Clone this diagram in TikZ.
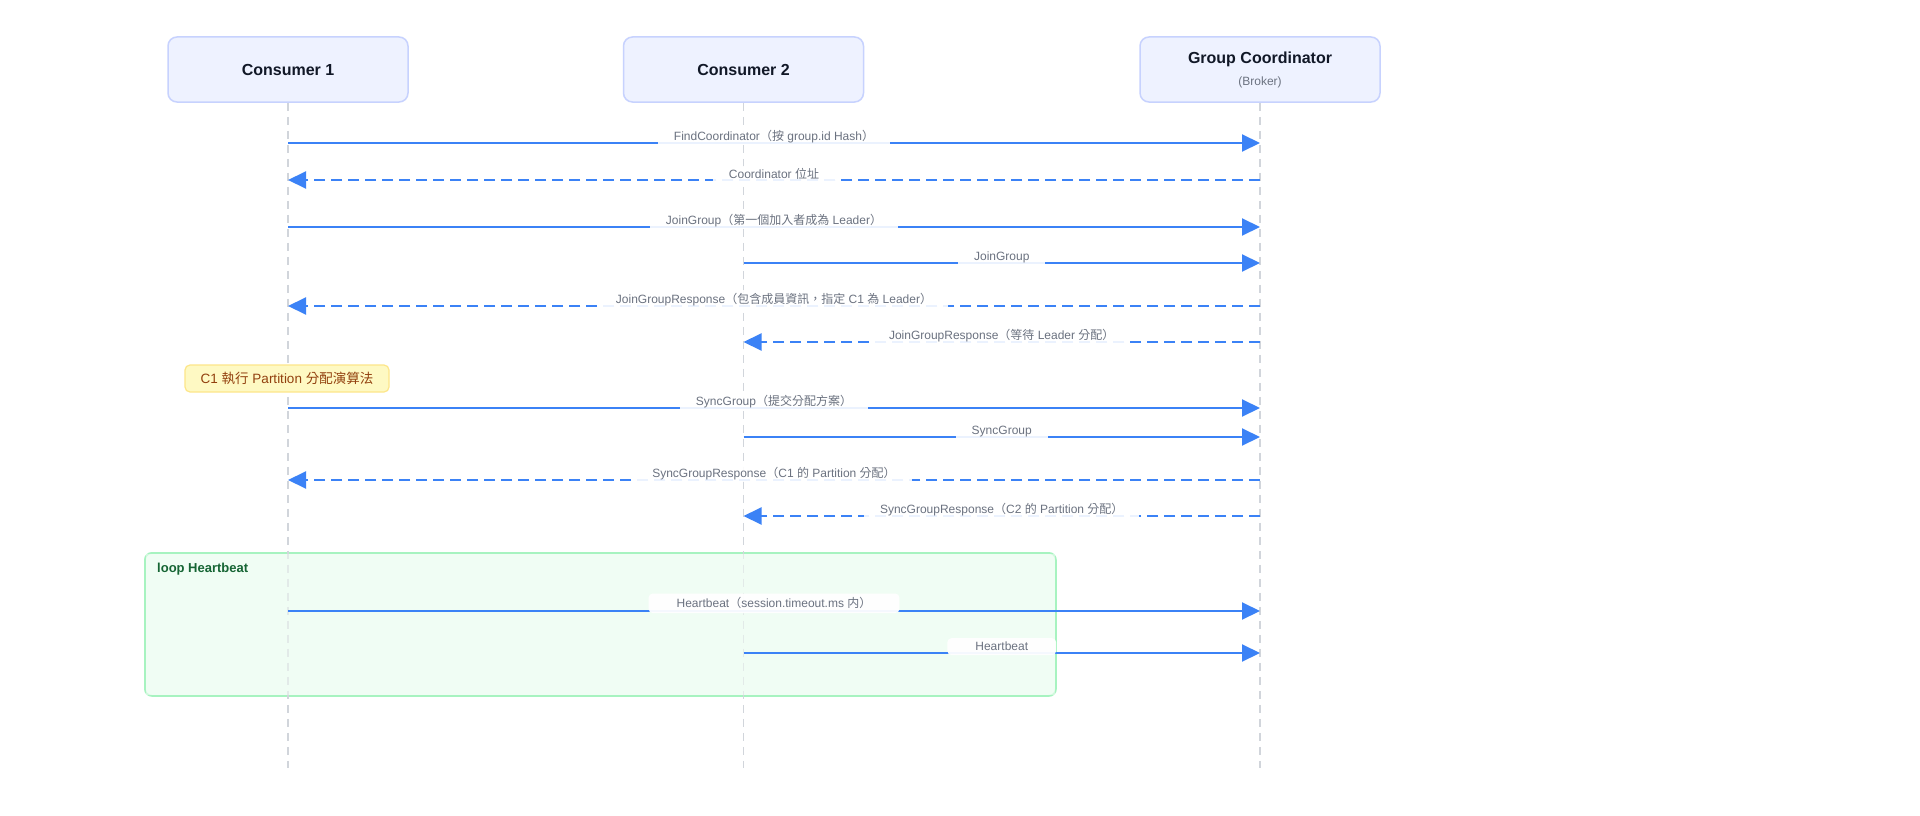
\documentclass[tikz,border=0pt]{standalone}
\usepackage{fontspec}
\setmainfont{Liberation Sans}
\newfontfamily\cjkfont{Noto Sans CJK TC}
\newcommand{\zhc}[1]{{\cjkfont #1}}
\usetikzlibrary{arrows.meta,calc}
\definecolor{headfill}{HTML}{EEF2FF}
\definecolor{headdraw}{HTML}{C7D2FE}
\definecolor{lifecol}{HTML}{D1D5DB}
\definecolor{msgcol}{HTML}{3B82F6}
\definecolor{lblcol}{HTML}{6B7280}
\definecolor{notefill}{HTML}{FEF9C3}
\definecolor{notedraw}{HTML}{FDE68A}
\definecolor{notetext}{HTML}{92400E}
\definecolor{loopfill}{HTML}{F0FDF4}
\definecolor{loopdraw}{HTML}{A7F3C0}
\definecolor{looptext}{HTML}{166534}
\definecolor{headtext}{HTML}{111827}
\begin{document}
\begin{tikzpicture}[x=1pt,y=-1pt,
 head/.style={draw=headdraw, line width=1.5pt, fill=headfill, rounded corners=9pt,
   minimum width=240pt, minimum height=65pt, inner sep=0pt, align=center,
   text=headtext, font=\fontsize{16}{20}\selectfont\bfseries},
 life/.style={draw=lifecol, line width=1.5pt, dash pattern=on 8pt off 6pt},
 call/.style={draw=msgcol, line width=2pt, -{Triangle[length=18pt,width=17pt]}},
 reply/.style={call, dash pattern=on 11pt off 6pt},
 lab/.style={fill=white, fill opacity=0.9, text opacity=1, text=lblcol,
   font=\fontsize{12}{14}\selectfont, inner xsep=16pt, inner ysep=2.5pt,
   anchor=south, yshift=-3pt},
 hblab/.style={lab, rounded corners=4pt, fill opacity=0.95, inner ysep=4pt, inner xsep=28pt},
 notebox/.style={draw=notedraw, line width=1.2pt, fill=notefill, rounded corners=5pt,
   minimum width=204pt, minimum height=27pt, text=notetext, font=\fontsize{13.5}{16}\selectfont},
 loopbox/.style={draw=loopdraw, line width=1.8pt, fill=loopfill, rounded corners=7pt},
 looplab/.style={text=looptext, font=\fontsize{13}{16}\selectfont\bfseries, anchor=west, inner sep=0pt}
]
\useasboundingbox[fill=white] (0,0) rectangle (1920,816);

% heads
\node[head] (c1) at (288,69.5) {Consumer 1};
\node[head] (c2) at (743.5,69.5) {Consumer 2};
\node[head] (gc) at (1260,69.5) {Group Coordinator\\[2pt]{\fontsize{12}{14}\selectfont\mdseries\color{lblcol}(Broker)}};

% lifeline ends
\coordinate (c1e) at (c1.south |- 0,768);
\coordinate (c2e) at (c2.south |- 0,768);
\coordinate (gce) at (gc.south |- 0,768);

% loop frame (behind lifelines)
\node[loopbox, minimum width=911pt, minimum height=143pt, anchor=north west] (loop) at (144,552) {};

% lifelines
\draw[life] (c1.south) -- (c1e);
\draw[life] (c2.south) -- (c2e);
\draw[life] (gc.south) -- (gce);
\fill[loopfill, opacity=0.55] ($(loop.north west)+(2,2)$) rectangle ($(loop.south east)+(-2,-2)$);
\node[looplab] (looplbl) at (157,569) {loop Heartbeat};

% message anchor points
\foreach \n/\y in {1/143,2/180,3/227,4/263,5/306,6/342,7/408,8/437,9/480,10/516,11/611,12/653}{
  \coordinate (c1m\n) at (c1.south |- 0,\y);
  \coordinate (c2m\n) at (c2.south |- 0,\y);
  \coordinate (gcm\n) at (gc.south |- 0,\y);
}

\draw[call] (c1m1) -- node[lab] {FindCoordinator\zhc{（按} group.id Hash\zhc{）}} (gcm1);
\draw[reply] (gcm2) -- node[lab] {Coordinator \zhc{位址}} (c1m2);
\draw[call] (c1m3) -- node[lab] {JoinGroup\zhc{（第一個加入者成為} Leader\zhc{）}} (gcm3);
\draw[call] (c2m4) -- node[lab] {JoinGroup} (gcm4);
\draw[reply] (gcm5) -- node[lab] {JoinGroupResponse\zhc{（包含成員資訊，指定} C1 \zhc{為} Leader\zhc{）}} (c1m5);
\draw[reply] (gcm6) -- node[lab] {JoinGroupResponse\zhc{（等待} Leader \zhc{分配）}} (c2m6);

\node[notebox] (note) at (287,378.5) {C1 \zhc{執行} Partition \zhc{分配演算法}};

\draw[call] (c1m7) -- node[lab] {SyncGroup\zhc{（提交分配方案）}} (gcm7);
\draw[call] (c2m8) -- node[lab] {SyncGroup} (gcm8);
\draw[reply] (gcm9) -- node[lab] {SyncGroupResponse\zhc{（}C1 \zhc{的} Partition \zhc{分配）}} (c1m9);
\draw[reply] (gcm10) -- node[lab] {SyncGroupResponse\zhc{（}C2 \zhc{的} Partition \zhc{分配）}} (c2m10);

\draw[call] (c1m11) -- node[hblab] {Heartbeat\zhc{（}session.timeout.ms \zhc{内）}} (gcm11);
\draw[call] (c2m12) -- node[hblab] {Heartbeat} (gcm12);
\end{tikzpicture}
\end{document}
